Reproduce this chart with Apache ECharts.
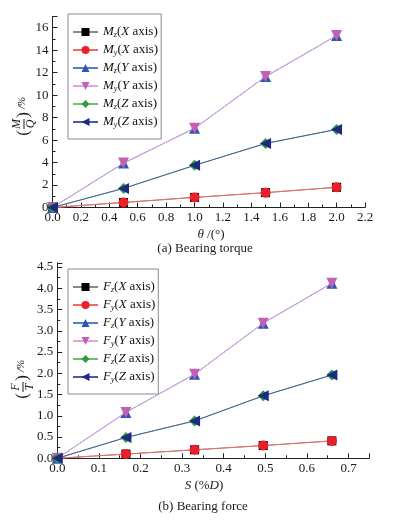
<!DOCTYPE html>
<html>
<head>
<meta charset="utf-8">
<script src="https://cdn.jsdelivr.net/npm/echarts@6/dist/echarts.min.js"></script>
<style>html,body{margin:0;padding:0;background:#fff}#c{width:394px;height:523px}</style>
</head>
<body>
<div id="c"></div>
<script>
// ---- Data: (a) Bearing torque ----
const xA = [0, 0.5, 1.0, 1.5, 2.0];
const mzX = [0, 0.45, 0.9, 1.32, 1.8];
const myX = [0, 0.45, 0.9, 1.32, 1.8];
const mzY = [0, 3.95, 7.05, 11.65, 15.3];
const myY = [0, 3.95, 7.05, 11.65, 15.3];
const mzZ = [0, 1.7, 3.75, 5.7, 6.95];
const myZ = [0, 1.7, 3.75, 5.7, 6.95];
const namesA = ['Mz(X axis)', 'My(X axis)', 'Mz(Y axis)', 'My(Y axis)', 'Mz(Z axis)', 'My(Z axis)'];

// ---- Data: (b) Bearing force ----
const xB = [0, 0.165, 0.33, 0.495, 0.66];
const fzX = [0, 0.1, 0.2, 0.3, 0.41];
const fyX = [0, 0.1, 0.2, 0.3, 0.41];
const fzY = [0, 1.08, 1.98, 3.18, 4.12];
const fyY = [0, 1.08, 1.98, 3.18, 4.12];
const fzZ = [0, 0.49, 0.88, 1.47, 1.96];
const fyZ = [0, 0.49, 0.88, 1.47, 1.96];
const namesB = ['Fz(X axis)', 'Fy(X axis)', 'Fz(Y axis)', 'Fy(Y axis)', 'Fz(Z axis)', 'Fy(Z axis)'];

const FONT = 'Liberation Serif';
const styles = [
  {symbol: 'rect', size: 9, rot: 0, mc: '#000000', lc: '#8a8a8a'},
  {symbol: 'circle', size: 10, rot: 0, mc: '#ea1f2a', lc: '#f06a6a'},
  {symbol: 'triangle', size: 11, rot: 0, mc: '#2d55b5', lc: '#5a7bcc'},
  {symbol: 'triangle', size: 11, rot: 180, mc: '#c45fb6', lc: '#e2a4da'},
  {symbol: 'diamond', size: 11, rot: 0, mc: '#2f9c3e', lc: '#6cbf6c'},
  {symbol: 'triangle', size: 11, rot: 90, mc: '#1d2a82', lc: '#4a5ca8'}
];

function mkSeries(names, xs, arrs, idx) {
  return arrs.map((arr, k) => ({
    type: 'line', name: names[k], xAxisIndex: idx, yAxisIndex: idx,
    data: xs.map((x, i) => [x, arr[i]]),
    symbol: styles[k].symbol, symbolSize: styles[k].size, symbolRotate: styles[k].rot,
    showAllSymbol: true,
    itemStyle: {color: styles[k].mc, borderWidth: 0},
    lineStyle: {color: styles[k].lc, width: 1},
    z: 2 + k, animation: false
  }));
}

function legendFmt(name) {
  return '{it|' + name[0] + '}{sub|' + name[1] + '}{n|(}{it|' + name[3] + '}{n| axis)}';
}
const legendRich = {
  it: {fontFamily: FONT, fontStyle: 'italic', fontSize: 13, color: '#111', lineHeight: 14},
  n: {fontFamily: FONT, fontSize: 13, color: '#111', lineHeight: 14},
  sub: {fontFamily: FONT, fontStyle: 'italic', fontSize: 8, color: '#111', lineHeight: 8, verticalAlign: 'bottom'}
};
function mkLegend(names, top) {
  return {
    data: names, orient: 'vertical', left: 68, top: top,
    itemWidth: 25, itemHeight: 10, itemGap: 4,
    padding: [11, 3, 10, 4], borderColor: '#8a8a8a', borderWidth: 1,
    formatter: legendFmt,
    textStyle: {fontFamily: FONT, fontSize: 13, color: '#111', lineHeight: 14, rich: legendRich},
    selectedMode: false
  };
}

const axisCommon = {
  type: 'value',
  axisLine: {show: true, lineStyle: {color: '#222', width: 1}},
  axisTick: {show: true, inside: true, length: 5, lineStyle: {color: '#222'}},
  minorTick: {show: true, splitNumber: 2, length: 3, lineStyle: {color: '#222'}},
  splitLine: {show: false},
  axisLabel: {fontFamily: FONT, fontSize: 13, color: '#1a1a1a', margin: 4, showMaxLabel: false}
};
function ax(extra, lbl) {
  const o = JSON.parse(JSON.stringify(axisCommon));
  Object.assign(o, extra);
  o.axisLabel = Object.assign(o.axisLabel, lbl || {});
  return o;
}

function yName(cx, cy, num, den) {
  const f = (t, x, y, size, italic) => ({
    type: 'text', x: x, y: y,
    style: {text: t, fontFamily: FONT, fontSize: size, fontStyle: italic ? 'italic' : 'normal',
      fill: '#1a1a1a', textAlign: 'center', textVerticalAlign: 'middle'}
  });
  return {
    type: 'group', x: cx, y: cy, rotation: Math.PI / 2,
    children: [
      f('(', -18, 0, 17, false),
      f(num, -9, -7, 12, true),
      {type: 'line', shape: {x1: -14, y1: 0, x2: -4, y2: 0}, style: {stroke: '#1a1a1a', lineWidth: 1}},
      f(den, -9, 7, 12, true),
      f(')', 0, 0, 17, false),
      f('/%', 12, -2, 11, true)
    ]
  };
}
function txt(rich, x, y, text) {
  return {type: 'text', x: x, y: y, style: {text: text, rich: rich, fontFamily: FONT, fontSize: 13, fill: '#1a1a1a', textAlign: 'center', textVerticalAlign: 'middle'}};
}
const capRich = {
  i: {fontFamily: FONT, fontStyle: 'italic', fontSize: 13, fill: '#1a1a1a'},
  n: {fontFamily: FONT, fontSize: 13, fill: '#1a1a1a'}
};

const chart = echarts.init(document.getElementById('c'), null, {renderer: 'canvas'});
chart.setOption({
  backgroundColor: '#ffffff',
  animation: false,
  grid: [
    {left: 52.5, right: 29, top: 16.5, bottom: 315.5, containLabel: false},
    {left: 57.3, right: 24.7, top: 262.8, bottom: 64.7, containLabel: false}
  ],
  xAxis: [
    ax({gridIndex: 0, min: 0, max: 2.2, interval: 0.2}, {formatter: v => v.toFixed(1), showMaxLabel: true}),
    ax({gridIndex: 1, min: 0, max: 0.75, interval: 0.1}, {formatter: v => v.toFixed(1)})
  ],
  yAxis: [
    ax({gridIndex: 0, min: 0, max: 17, interval: 2}, {formatter: v => String(v)}),
    ax({gridIndex: 1, min: 0, max: 4.6, interval: 0.5}, {formatter: v => v.toFixed(1)})
  ],
  legend: [mkLegend(namesA, 14), mkLegend(namesB, 269)],
  series: [].concat(
    mkSeries(namesA, xA, [mzX, myX, mzY, myY, mzZ, myZ], 0),
    mkSeries(namesB, xB, [fzX, fyX, fzY, fyY, fzZ, fyZ], 1)
  ),
  graphic: [
    yName(24, 115, 'M', 'Q'),
    yName(23, 378, 'F', 'T'),
    txt(capRich, 211, 235, '{i|θ} {n|/(°)}'),
    txt(capRich, 205, 249, '{n|(a) Bearing torque}'),
    txt(capRich, 204, 486, '{i|S} {n|(%}{i|D}{n|)}'),
    txt(capRich, 203, 507, '{n|(b) Bearing force}')
  ]
});
</script>
</body>
</html>
